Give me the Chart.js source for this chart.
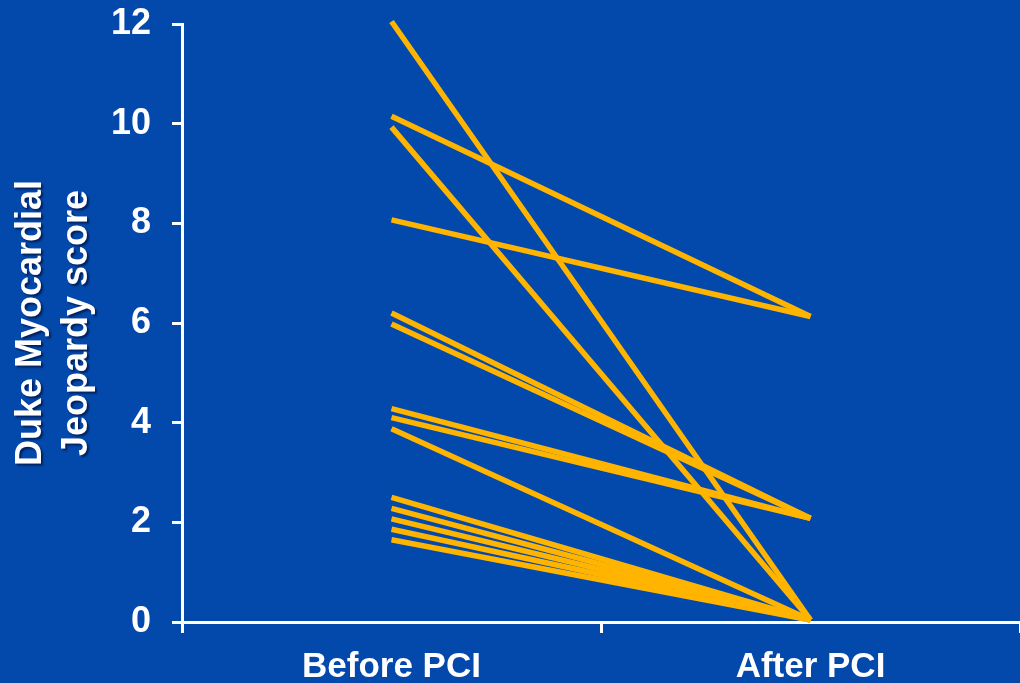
<!DOCTYPE html>
<html>
<head>
<meta charset="utf-8">
<script src="https://cdn.jsdelivr.net/npm/chart.js@4/dist/chart.umd.min.js"></script>
<style>
  html, body { margin: 0; padding: 0; background: #0348AB; }
  canvas { display: block; }
</style>
</head>
<body>
<canvas id="c" width="1020" height="683"></canvas>
<script>
const categories = ['Before PCI', 'After PCI'];
const beforeValues = [12.05, 10.15, 9.93, 8.07, 6.2, 5.98, 4.28, 4.1, 3.88, 2.5, 2.28, 2.07, 1.86, 1.65];
const afterValues  = [0.04, 6.13, 0.04, 6.13, 2.08, 2.08, 2.08, 2.08, 0.04, 0.04, 0.04, 0.04, 0.04, 0.04];
const yTicks = [0, 2, 4, 6, 8, 10, 12];
const yTitle = ['Duke Myocardial', 'Jeopardy score'];

const FONT = "'Liberation Sans', Arial, sans-serif";
const WHITE = '#FFFFFF';
const LINE = '#FFB400';

const datasets = beforeValues.map((b, i) => ({
  data: [b, afterValues[i]],
  borderColor: LINE,
  borderWidth: 5.5,
  pointRadius: 0,
  fill: false,
  tension: 0,
  clip: false
}));

const titleShadow = {
  id: 'titleShadow',
  afterLayout(chart) {
    const s = chart.scales.y;
    if (s && !s._shadowPatched) {
      const orig = s.drawTitle.bind(s);
      s.drawTitle = function (a) {
        const c = chart.ctx;
        c.save();
        c.shadowColor = 'rgba(0,0,30,0.55)';
        c.shadowOffsetX = 2;
        c.shadowOffsetY = 2;
        c.shadowBlur = 2;
        orig(a);
        c.restore();
      };
      s._shadowPatched = true;
    }
  }
};

new Chart(document.getElementById('c'), {
  type: 'line',
  data: { labels: categories, datasets },
  plugins: [titleShadow],
  options: {
    responsive: false,
    animation: false,
    devicePixelRatio: 1,
    layout: { padding: { top: 24, right: 0, bottom: 0, left: 0 } },
    plugins: { legend: { display: false }, tooltip: { enabled: false } },
    scales: {
      x: {
        type: 'category',
        offset: true,
        grid: {
          offset: true,
          drawOnChartArea: false,
          drawTicks: true,
          tickLength: 11,
          color: WHITE,
          lineWidth: 3
        },
        border: { display: true, color: WHITE, width: 3 },
        ticks: {
          color: WHITE,
          padding: 13,
          font: { family: FONT, size: 35, weight: 'bold' },
          maxRotation: 0
        },
        afterFit(scale) {
          scale.height = 61;
          scale.paddingLeft = 0; scale.paddingRight = 0;
        }
      },
      y: {
        min: 0,
        max: 12,
        afterBuildTicks(scale) { scale.ticks = yTicks.map(v => ({ value: v })); },
        grid: {
          drawOnChartArea: false,
          drawTicks: true,
          tickLength: 10,
          color: WHITE,
          lineWidth: 3
        },
        border: { display: true, color: WHITE, width: 3 },
        ticks: {
          color: WHITE,
          padding: 21,
          font: { family: FONT, size: 36, weight: 'bold' }
        },
        title: {
          display: true,
          text: yTitle,
          color: WHITE,
          font: { family: FONT, size: 36, weight: 'bold', lineHeight: 1.28 },
          padding: { top: 8, bottom: 10 }
        },
        afterFit(scale) {
          scale.width = 182;
          scale.paddingTop = 0; scale.paddingBottom = 0;
        }
      }
    }
  }
});
</script>
</body>
</html>
